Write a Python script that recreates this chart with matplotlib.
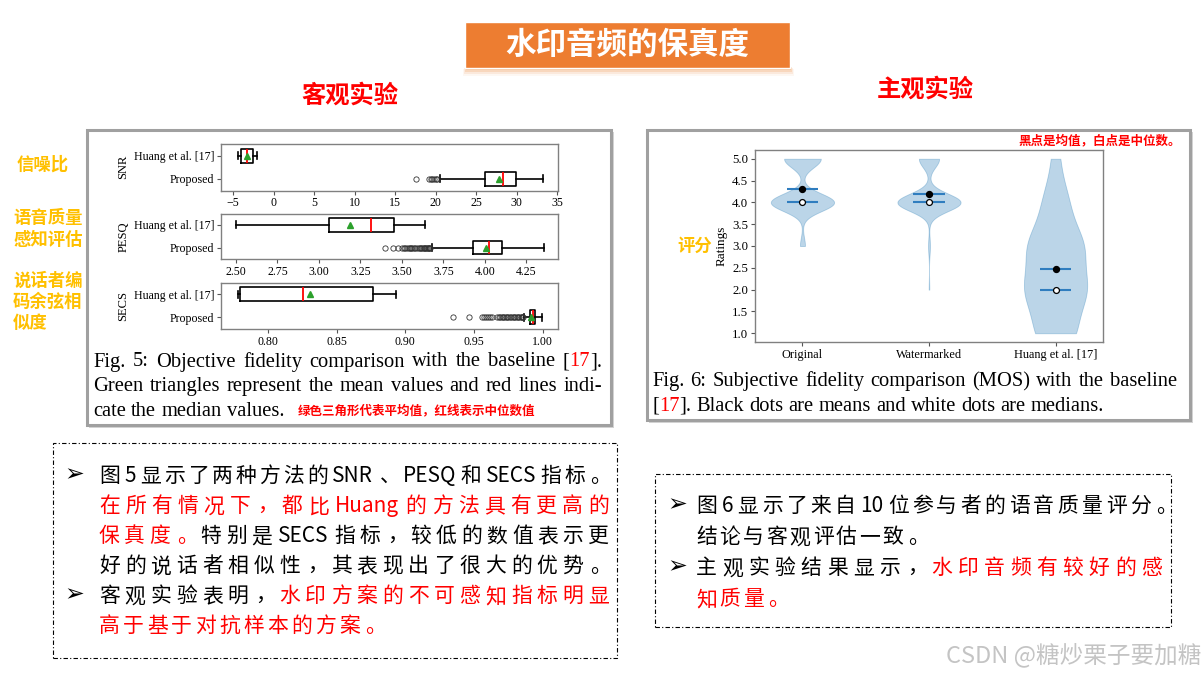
import numpy as np
import matplotlib
matplotlib.use('Agg')
import matplotlib.pyplot as plt
from matplotlib.patches import Rectangle

# ------------------------------------------------------------------ data
box_categories = ['Proposed', 'Huang et al. [17]']
box_metrics = ['SNR', 'PESQ', 'SECS']

# five-number summaries: [whisker low, Q1, median, Q3, whisker high]
snr_huang_summary = [-4.45, -4.0, -3.3, -2.6, -2.05]
snr_huang_mean = -3.35
snr_proposed_summary = [20.5, 26.07, 28.3, 29.92, 33.25]
snr_proposed_mean = 27.8
snr_proposed_fliers = [17.6, 19.2, 19.4, 19.6, 19.8, 20.0, 20.2]

pesq_huang_summary = [2.50, 3.06, 3.316, 3.45, 3.64]
pesq_huang_mean = 3.19
pesq_proposed_summary = [3.68, 3.93, 4.024, 4.105, 4.355]
pesq_proposed_mean = 4.008
pesq_proposed_fliers = [3.40, 3.446, 3.476, 3.50, 3.51, 3.52, 3.53, 3.54, 3.55,
                        3.555, 3.56, 3.57, 3.58, 3.59, 3.60, 3.61, 3.615, 3.62,
                        3.63, 3.635, 3.64, 3.645, 3.65, 3.655, 3.66, 3.665, 3.67]

secs_huang_summary = [0.7783, 0.780, 0.8258, 0.8766, 0.8933]
secs_huang_mean = 0.8306
secs_proposed_summary = [0.9860, 0.9905, 0.9925, 0.9946, 0.9995]
secs_proposed_mean = 0.9915
secs_proposed_fliers = [0.9345, 0.9463, 0.9556, 0.957, 0.9585, 0.960, 0.9615,
                        0.963, 0.9668, 0.968, 0.969, 0.970, 0.971, 0.972, 0.973,
                        0.974, 0.975, 0.976, 0.977, 0.978, 0.979, 0.980, 0.981,
                        0.982, 0.983, 0.984, 0.9845, 0.985, 0.9855]

snr_ticks = [-5, 0, 5, 10, 15, 20, 25, 30, 35]
pesq_ticks = [2.50, 2.75, 3.00, 3.25, 3.50, 3.75, 4.00, 4.25]
secs_ticks = [0.80, 0.85, 0.90, 0.95, 1.00]

# MOS ratings: number of ratings at each level
rating_levels = [1, 2, 3, 4, 5]
original_counts = [0, 0, 8, 100, 58]
watermarked_counts = [0, 1, 3, 100, 32]
huang_counts = [30, 46, 42, 19, 6]
violin_categories = ['Original', 'Watermarked', 'Huang et al. [17]']
rating_ticks = [1.0, 1.5, 2.0, 2.5, 3.0, 3.5, 4.0, 4.5, 5.0]

# texts
title_text = '水印音频的保真度'
left_header = '客观实验'
right_header = '主观实验'
left_side_labels = [['信噪比'], ['语音质量', '感知评估'], ['说话者编', '码余弦相', '似度']]
right_side_label = '评分'
fig5_caption = [
    [('Fig. 5: Objective fidelity comparison with the baseline ', 'k'), ('[', 'k'), ('17', 'red'), ('].', 'k')],
    [('Green triangles represent the mean values and red lines indi-', 'k')],
    [('cate the median values.', 'k')],
]
fig5_note = '绿色三角形代表平均值，红线表示中位数值'
fig6_caption = [
    [('Fig. 6: Subjective fidelity comparison (MOS) with the baseline', 'k')],
    [('[', 'k'), ('17', 'red'), ('].', 'k'), (' Black dots are means and white dots are medians.', 'k')],
]
fig6_note = '黑点是均值，白点是中位数。'
left_bullets = [
    [('图5显示了两种方法的SNR、PESQ和SECS指标。', 'k')],
    [('在所有情况下，都比Huang的方法具有更高的', 'red')],
    [('保真度。', 'red'), ('特别是SECS指标，较低的数值表示更', 'k')],
    [('好的说话者相似性，其表现出了很大的优势。', 'k')],
    [('客观实验表明，', 'k'), ('水印方案的不可感知指标明显', 'red')],
    [('高于基于对抗样本的方案。', 'red')],
]
right_bullets = [
    [('图6显示了来自10位参与者的语音质量评分。', 'k')],
    [('结论与客观评估一致。', 'k')],
    [('主观实验结果显示，', 'k'), ('水印音频有较好的感', 'red')],
    [('知质量。', 'red')],
]
watermark_text = 'CSDN @糖炒栗子要加糖'

# ------------------------------------------------------------------ figure
W, H = 1204, 674
fig = plt.figure(figsize=(W / 100, H / 100), dpi=100)
fig.patch.set_facecolor('white')
renderer = fig.canvas.get_renderer()

CJK = ['Noto Sans CJK SC', 'DejaVu Sans']
SERIF = ['Liberation Serif', 'DejaVu Serif']


def fx(x):
    return x / W


def fy(y):
    return 1 - y / H


def axes_px(l, t, r, b):
    return fig.add_axes([l / W, 1 - b / H, (r - l) / W, (b - t) / H])


def rect_px(l, t, r, b, **kw):
    p = Rectangle((l / W, 1 - b / H), (r - l) / W, (b - t) / H,
                  transform=fig.transFigure, **kw)
    fig.add_artist(p)
    return p


def text_width(s, **kw):
    t = fig.text(0, 0, s, **kw)
    w = t.get_window_extent(renderer).width
    t.remove()
    return w


def english_line(x0, y, segments, size, x1=None):
    kw = dict(fontsize=size, family=SERIF)
    words = [[]]
    for text, color in segments:
        parts = text.split(' ')
        for i, p in enumerate(parts):
            if i > 0:
                words.append([])
            if p:
                words[-1].append((p, color))
    words = [w for w in words if w]
    widths = [[text_width(p, **kw) for p, c in w] for w in words]
    totals = [sum(ws) for ws in widths]
    if x1 is not None and len(words) > 1:
        gap = (x1 - x0 - sum(totals)) / (len(words) - 1)
    else:
        gap = 0.25 * size * 100 / 72
    x = x0
    for w, ws in zip(words, widths):
        for (p, c), pw in zip(w, ws):
            fig.text(fx(x), fy(y), p, color=c, ha='left', va='baseline', **kw)
            x += pw
        x += gap


def cjk_line(x0, y, segments, size, x1=None, gap=0.0, weight='normal'):
    em = size * 100 / 72
    kw = dict(fontsize=size, family=CJK, weight=weight)
    units = []
    for text, color in segments:
        buf = ''
        for ch in text:
            if ord(ch) < 128:
                buf += ch
            else:
                if buf:
                    units.append((buf, color, 'a'))
                    buf = ''
                units.append((ch, color, 'c'))
        if buf:
            units.append((buf, color, 'a'))
    widths = []
    for u, c, k in units:
        widths.append(em if k == 'c' else text_width(u, **kw) + 0.12 * em)
    if x1 is not None and len(units) > 1:
        gap = (x1 - x0 - sum(widths)) / (len(units) - 1)
    x = x0
    for (u, c, k), w in zip(units, widths):
        if k == 'c':
            if u in '，。、：；':
                fig.text(fx(x + 0.1 * em), fy(y), u, color=c, ha='left', va='baseline', **kw)
            else:
                fig.text(fx(x + w / 2), fy(y), u, color=c, ha='center', va='baseline', **kw)
        else:
            fig.text(fx(x + 0.06 * em), fy(y), u, color=c, ha='left', va='baseline', **kw)
        x += w + gap
    return gap


# ------------------------------------------------------------------ title & headers
for k, a in enumerate([0.35, 0.25, 0.15, 0.08]):
    rect_px(466 - k, 66 + k, 791 + k, 70 + 2 * k, facecolor='#f0a060', edgecolor='none',
            zorder=-3, alpha=a)
rect_px(465, 22, 790, 68, facecolor='#ED7D31', edgecolor='white', linewidth=1.0, zorder=-2)
fig.text(fx(627.5), fy(45), title_text, color='white', fontsize=22, weight='bold',
         family=CJK, ha='center', va='center')
fig.text(fx(350), fy(96), left_header, color='#FF0000', fontsize=17.5, weight='bold',
         family=CJK, ha='center', va='center')
fig.text(fx(925), fy(90), right_header, color='#FF0000', fontsize=17.5, weight='bold',
         family=CJK, ha='center', va='center')

# side labels
ORANGE = '#FFC000'
fig.text(fx(17), fy(165), left_side_labels[0][0], color=ORANGE, fontsize=12.5,
         weight='bold', family=CJK, ha='left', va='center')
for i, s in enumerate(left_side_labels[1]):
    fig.text(fx(13), fy(218 + 22 * i), s, color=ORANGE, fontsize=12.5,
             weight='bold', family=CJK, ha='left', va='center')
for i, s in enumerate(left_side_labels[2]):
    fig.text(fx(13), fy(281 + 21 * i), s, color=ORANGE, fontsize=12.5,
             weight='bold', family=CJK, ha='left', va='center')
fig.text(fx(677), fy(246), right_side_label, color=ORANGE, fontsize=12.5,
         weight='bold', family=CJK, ha='left', va='center')

# ------------------------------------------------------------------ picture frames
rect_px(89, 132, 614, 428, facecolor='#d4d4d4', edgecolor='none', zorder=-3)
rect_px(87, 130, 611, 425, facecolor='white', edgecolor='#a0a0a0', linewidth=2.2, zorder=-2)
rect_px(649, 132, 1193, 423, facecolor='#d4d4d4', edgecolor='none', zorder=-3)
rect_px(647, 130, 1190, 420, facecolor='white', edgecolor='#a0a0a0', linewidth=2.2, zorder=-2)

# ------------------------------------------------------------------ box plots
def make_stats(summary, mean, fliers, label):
    lo, q1, med, q3, hi = summary
    return dict(whislo=lo, q1=q1, med=med, q3=q3, whishi=hi, mean=mean,
                fliers=np.array(fliers, dtype=float), label=label)


box_sets = [
    (make_stats(snr_proposed_summary, snr_proposed_mean, snr_proposed_fliers, box_categories[0]),
     make_stats(snr_huang_summary, snr_huang_mean, [], box_categories[1]),
     snr_ticks, (-6.5, 35.1), '{:.0f}'),
    (make_stats(pesq_proposed_summary, pesq_proposed_mean, pesq_proposed_fliers, box_categories[0]),
     make_stats(pesq_huang_summary, pesq_huang_mean, [], box_categories[1]),
     pesq_ticks, (2.41, 4.44), '{:.2f}'),
    (make_stats(secs_proposed_summary, secs_proposed_mean, secs_proposed_fliers, box_categories[0]),
     make_stats(secs_huang_summary, secs_huang_mean, [], box_categories[1]),
     secs_ticks, (0.766, 1.011), '{:.2f}'),
]
box_axes_px = [(221, 144, 558, 190.5), (221, 213.5, 558, 259), (221, 282.5, 558, 329)]

for (sp, sh, ticks, xlim, fmt), name, pos in zip(box_sets, box_metrics, box_axes_px):
    ax = axes_px(*pos)
    ax.bxp([sp, sh], positions=[1, 2], widths=0.6, orientation='horizontal',
           showmeans=True,
           boxprops=dict(color='black', linewidth=1.2),
           whiskerprops=dict(color='black', linewidth=1.2),
           capprops=dict(color='black', linewidth=1.2),
           medianprops=dict(color='red', linewidth=1.3),
           meanprops=dict(marker='^', markerfacecolor='#2ca02c', markeredgecolor='#2ca02c',
                          markersize=4.5),
           flierprops=dict(marker='o', markerfacecolor='none', markeredgecolor='#333333',
                           markersize=3.8, markeredgewidth=0.6))
    ax.set_xlim(*xlim)
    ax.set_ylim(0.5, 2.5)
    ax.set_xticks(ticks)
    ax.set_xticklabels([fmt.format(t).replace('-', '\u2212') for t in ticks])
    for lab in ax.get_xticklabels() + ax.get_yticklabels():
        lab.set_fontfamily(SERIF)
        lab.set_fontsize(8.6)
    ax.set_ylabel(name, fontsize=9, family=SERIF, labelpad=3)
    for s in ax.spines.values():
        s.set_color('#808080')
        s.set_linewidth(1.0)
    ax.tick_params(length=3, width=0.8, color='#555555', pad=2)

CAP = 14.8
english_line(93, 366.5, fig5_caption[0], CAP, x1=602)
english_line(93, 391, fig5_caption[1], CAP, x1=602)
english_line(93, 415.5, fig5_caption[2], CAP)
fig.text(fx(298), fy(411), fig5_note, color='#FF0000', fontsize=9, weight='bold',
         family=CJK, ha='left', va='center')

# ------------------------------------------------------------------ violin plot
axv = axes_px(755, 150, 1103, 342)
datasets = [np.repeat(rating_levels, c) for c in (original_counts, watermarked_counts, huang_counts)]
bw_abs = [0.2, 0.2, 0.5]
for i, data in enumerate(datasets):
    factor = bw_abs[i] / np.std(data, ddof=1)
    parts = axv.violinplot([data], positions=[i + 1], widths=0.5, showmeans=True,
                           showmedians=True, showextrema=False, bw_method=factor)
    for pc in parts['bodies']:
        pc.set_facecolor('#1f77b4')
        pc.set_edgecolor('#1f77b4')
        pc.set_alpha(0.3)
        pc.set_linewidth(0.6)
    for key in ('cmeans', 'cmedians'):
        parts[key].set_color('#2f7dbf')
        parts[key].set_linewidth(1.5)
    axv.scatter([i + 1], [np.mean(data)], s=18, color='black', zorder=4)
    axv.scatter([i + 1], [np.median(data)], s=18, facecolor='white', edgecolor='black',
                linewidth=0.9, zorder=4)

axv.set_xlim(0.625, 3.375)
axv.set_ylim(0.8, 5.2)
axv.set_xticks([1, 2, 3])
axv.set_xticklabels(violin_categories)
axv.set_yticks(rating_ticks)
axv.set_yticklabels(['{:.1f}'.format(t) for t in rating_ticks])
for lab in axv.get_xticklabels():
    lab.set_fontfamily(SERIF)
    lab.set_fontsize(8.8)
for lab in axv.get_yticklabels():
    lab.set_fontfamily(SERIF)
    lab.set_fontsize(9.2)
axv.set_ylabel('Ratings', fontsize=9.5, family=SERIF, labelpad=3)
for s in axv.spines.values():
    s.set_color('#808080')
    s.set_linewidth(1.0)
axv.tick_params(length=3, width=0.8, color='#555555', pad=2)

fig.text(fx(1181), fy(141), fig6_note, color='#FF0000', fontsize=9, weight='bold',
         family=CJK, ha='right', va='center')
english_line(652, 386.5, fig6_caption[0], CAP, x1=1177)
english_line(652, 411, fig6_caption[1], CAP)

# ------------------------------------------------------------------ text boxes
rect_px(53, 443, 617, 658, facecolor='none', edgecolor='black', linewidth=0.8,
        linestyle=(0, (4, 2, 1, 2)))
rect_px(655, 474, 1171, 627, facecolor='none', edgecolor='black', linewidth=0.8,
        linestyle=(0, (4, 2, 1, 2)))

size_l = 15.0
base_off = 7.2
yl = [475, 505, 535, 565, 595, 625]
for yy in (yl[0], yl[4]):
    fig.text(fx(64), fy(yy + 6), '\u27a2', fontsize=17, family=['DejaVu Sans'],
             ha='left', va='baseline', color='black')
for i, seg in enumerate(left_bullets):
    if i < 5:
        cjk_line(99, yl[i] + base_off, seg, size_l, x1=609)
    else:
        cjk_line(99, yl[i] + base_off, seg, size_l, gap=3.2)

yr = [505, 536, 567, 598]
for yy in (yr[0], yr[2]):
    fig.text(fx(667), fy(yy + 6), '\u27a2', fontsize=17, family=['DejaVu Sans'],
             ha='left', va='baseline', color='black')
cjk_line(696, yr[0] + base_off, right_bullets[0], size_l, x1=1175)
cjk_line(696, yr[1] + base_off, right_bullets[1], size_l, gap=2.5)
cjk_line(696, yr[2] + base_off, right_bullets[2], size_l, x1=1162)
cjk_line(696, yr[3] + base_off, right_bullets[3], size_l, gap=2.5)

fig.text(fx(1201), fy(655), watermark_text, color='#c4c4c4', fontsize=17,
         family=CJK, ha='right', va='center')

fig.savefig('out.png', dpi=100, facecolor='white')
